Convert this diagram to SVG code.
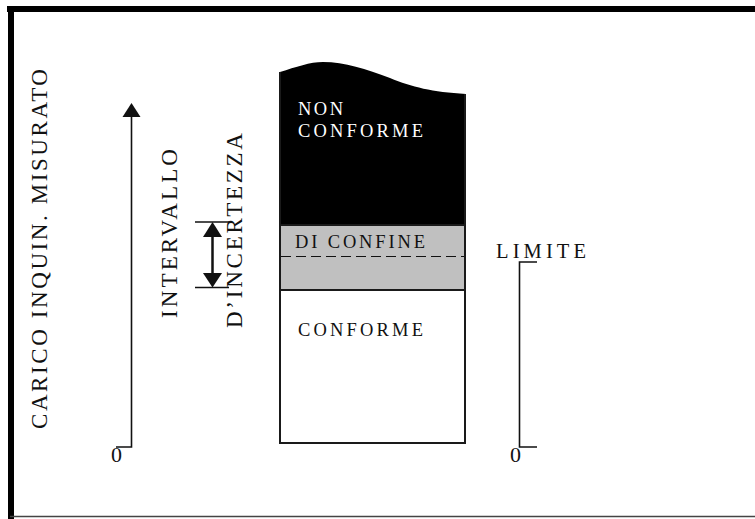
<svg xmlns="http://www.w3.org/2000/svg" width="755" height="519" viewBox="0 0 755 519">
  <defs>
    <style>
      .lbl { font-family: "Liberation Serif", "Times New Roman", serif; fill: #111; }
      .inv { fill: #fff; }
      .axis { stroke: #111; stroke-width: 1.6; fill: none; }
      .edge { stroke: #1a1a1a; stroke-width: 2; }
    </style>
  </defs>

  <rect width="755" height="519" fill="#fff"/>

  <!-- frame: heavy top and left rules, thin bottom rule -->
  <g id="frame">
    <rect x="7" y="6" width="748" height="6" fill="#000"/>
    <rect x="8" y="6" width="6" height="513" fill="#000"/>
    <line x1="10" y1="516.5" x2="755" y2="516.5" stroke="#444" stroke-width="1.5"/>
  </g>

  <!-- stacked column: non-compliant / borderline / compliant -->
  <g id="non-conforme">
    <path d="M280,72 C296,67 310,62 323,62 C345,62 366,69 390,78 C412,87 432,92 466,94 L466,225 L280,225 Z" fill="#000"/>
    <text class="lbl inv" x="298" y="115" font-size="18.5" textLength="45">NON</text>
    <text class="lbl inv" x="298" y="137" font-size="18.5" textLength="125">CONFORME</text>
  </g>

  <g id="di-confine">
    <rect x="280" y="225" width="185" height="65" fill="#c0c0c0"/>
    <line x1="280" y1="225" x2="465" y2="225" class="edge"/>
    <line x1="280" y1="290" x2="465" y2="290" class="edge"/>
    <line x1="281" y1="256.5" x2="465" y2="256.5" stroke="#111" stroke-width="1.2" stroke-dasharray="10 5"/>
    <text class="lbl" x="295" y="248" font-size="18.5" textLength="130">DI CONFINE</text>
  </g>

  <g id="conforme">
    <line x1="280" y1="72" x2="280" y2="444" class="edge"/>
    <line x1="465" y1="94" x2="465" y2="444" class="edge"/>
    <line x1="279" y1="443" x2="466" y2="443" class="edge"/>
    <text class="lbl" x="298" y="336" font-size="18.5" textLength="125">CONFORME</text>
  </g>

  <!-- axis titles -->
  <g id="asse-carico">
    <text class="lbl" font-size="23" transform="translate(47,429) rotate(-90)" textLength="360">CARICO INQUIN. MISURATO</text>
    <text class="lbl" x="111" y="462" font-size="22">0</text>
  </g>

  <g id="intervallo">
    <text class="lbl" font-size="23" transform="translate(177,318) rotate(-90)" textLength="169">INTERVALLO</text>
    <text class="lbl" font-size="23" transform="translate(242,328) rotate(-90)" textLength="195">D’INCERTEZZA</text>
  </g>

  <g id="limite">
    <text class="lbl" x="496" y="258" font-size="20.5" textLength="90">LIMITE</text>
    <text class="lbl" x="510" y="462" font-size="22">0</text>
  </g>

  <!-- axes and interval arrow -->
  <g id="connectors">
    <path class="axis" d="M116,447 H131.5 V117"/>
    <path d="M122.5,117 L131.5,103 L140.5,117 Z" fill="#111"/>

    <path class="axis" d="M537,262 H519.5 V447 H537"/>

    <line x1="195" y1="222" x2="229" y2="222" stroke="#111" stroke-width="1.5"/>
    <line x1="195" y1="287.5" x2="229" y2="287.5" stroke="#111" stroke-width="1.5"/>
    <line x1="212.5" y1="236" x2="212.5" y2="274" stroke="#111" stroke-width="2.5"/>
    <path d="M203,237 L212.5,222 L222,237 Z" fill="#111"/>
    <path d="M203,273 L212.5,287.5 L222,273 Z" fill="#111"/>
  </g>
</svg>
